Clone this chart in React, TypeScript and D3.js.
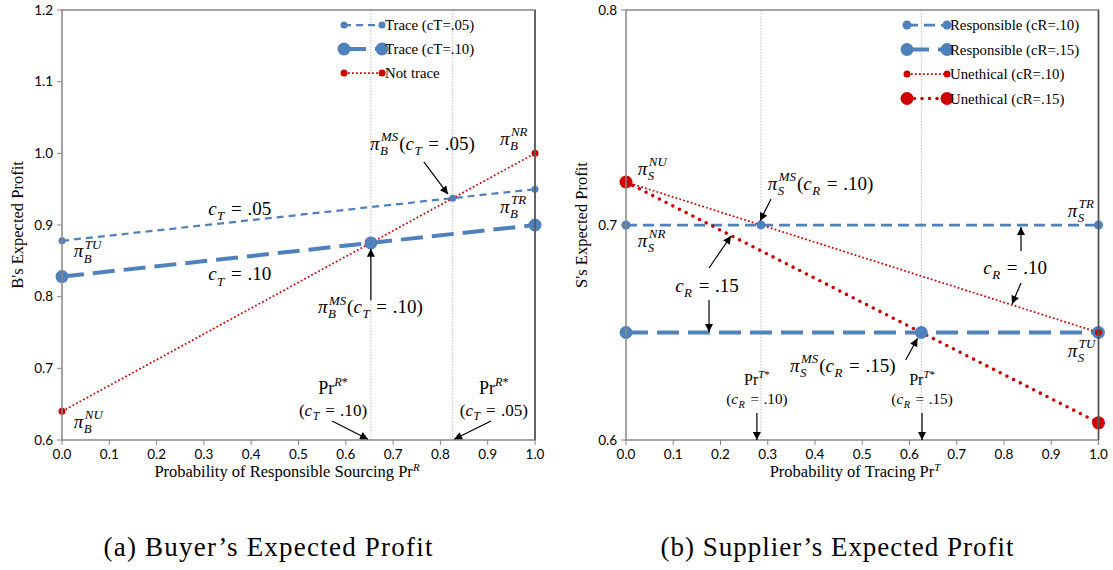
import React from "react";
import * as d3 from "d3";

// ---------- data ----------
type Pt = { x: number; y: number };

const xTicks = [0, 0.1, 0.2, 0.3, 0.4, 0.5, 0.6, 0.7, 0.8, 0.9, 1.0];

// (a) buyer
const buyerYTicks = [0.6, 0.7, 0.8, 0.9, 1.0, 1.1, 1.2];
const traceLowCost: Pt[] = [
  { x: 0, y: 0.878 },
  { x: 0.826, y: 0.9375 },
  { x: 1, y: 0.95 },
];
const traceHighCost: Pt[] = [
  { x: 0, y: 0.828 },
  { x: 0.653, y: 0.875 },
  { x: 1, y: 0.9 },
];
const notTrace: Pt[] = [
  { x: 0, y: 0.64 },
  { x: 1, y: 1.0 },
];
const buyerThresholds = [0.653, 0.826];

// (b) supplier
const supplierYTicks = [0.6, 0.7, 0.8];
const responsibleLow: Pt[] = [
  { x: 0, y: 0.7 },
  { x: 0.2857, y: 0.7 },
  { x: 1, y: 0.7 },
];
const responsibleHigh: Pt[] = [
  { x: 0, y: 0.65 },
  { x: 0.625, y: 0.65 },
  { x: 1, y: 0.65 },
];
const unethicalLow: Pt[] = [
  { x: 0, y: 0.72 },
  { x: 1, y: 0.65 },
];
const unethicalHigh: Pt[] = [
  { x: 0, y: 0.72 },
  { x: 1, y: 0.608 },
];
const supplierThresholds = [0.2857, 0.625];

// ---------- styles ----------
const BLUE = "#4F81BD";
const RED = "#D00000";
type LineStyle = { color: string; width: number; dash: string; cap: "butt" | "round"; r: number };
const thinDash: LineStyle = { color: BLUE, width: 2.25, dash: "7 5", cap: "butt", r: 3.5 };
const thickDash: LineStyle = { color: BLUE, width: 4, dash: "22 9", cap: "butt", r: 6.5 };
const midDash: LineStyle = { color: BLUE, width: 2.75, dash: "11 6", cap: "butt", r: 4.5 };
const thinDot: LineStyle = { color: RED, width: 1.75, dash: "1.75 2.25", cap: "butt", r: 3.5 };
const thickDot: LineStyle = { color: RED, width: 3.6, dash: "0 7.5", cap: "round", r: 6.5 };

const SERIF = "'Liberation Serif', Tinos, 'DejaVu Serif', serif";
const SANS = "Lato, 'Liberation Sans', sans-serif";
const NBSP = "\u00A0";

// ---------- text measuring ----------
let measureCtx: CanvasRenderingContext2D | null = null;
function tw(s: string, font: string): number {
  if (!measureCtx) measureCtx = document.createElement("canvas").getContext("2d");
  if (!measureCtx) return s.length * 8;
  measureCtx.font = font;
  return measureCtx.measureText(s).width;
}
const fontStr = (size: number, italic: boolean) => `${italic ? "italic " : ""}${size}px ${SERIF}`;

type Run = { t: string; dx: number; dy: number; size: number; italic: boolean };

// " = v" with slightly wider math spacing around the equals sign
function eqRuns(val: string, close: string, x0: number, fs: number): { runs: Run[]; width: number } {
  const gap = fs * 0.3;
  const wEq = tw("=", fontStr(fs, false));
  const runs: Run[] = [
    { t: "=", dx: x0 + gap, dy: 0, size: fs, italic: false },
    { t: val + close, dx: x0 + gap + wEq + gap, dy: 0, size: fs, italic: false },
  ];
  return { runs, width: gap * 2 + wEq + tw(val + close, fontStr(fs, false)) };
}

// Lays out "base_sub^sup" (stacked scripts) and an optional "(c_X = v)" tail
function mathRuns(
  base: string,
  sub: string,
  sup: string | undefined,
  tail: { sub: string; val: string; paren: boolean } | undefined,
  fs: number
): { runs: Run[]; width: number } {
  const ss = fs * 0.68;
  const runs: Run[] = [];
  let cx = 0;
  const add = (t: string, dy: number, size: number, italic: boolean) => {
    runs.push({ t, dx: cx, dy, size, italic });
    return tw(t, fontStr(size, italic));
  };
  cx += add(base, 0, fs, true) + 0.5;
  const wSup = sup ? tw(sup, fontStr(ss, true)) + 1 : 0;
  const wSub = tw(sub, fontStr(ss, true));
  if (sup) runs.push({ t: sup, dx: cx + 1, dy: -fs * 0.45, size: ss, italic: true });
  runs.push({ t: sub, dx: cx, dy: fs * 0.28, size: ss, italic: true });
  cx += Math.max(wSup, wSub) + 1;
  if (tail) {
    if (tail.paren) cx += add("(", 0, fs, false);
    cx += add("c", 0, fs, true) + 0.5;
    cx += add(tail.sub, fs * 0.28, ss, true) + 1;
    const eq = eqRuns(tail.val, tail.paren ? ")" : "", cx, fs);
    runs.push(...eq.runs);
    cx += eq.width;
  }
  return { runs, width: cx };
}

function Runs({ runs, x, y }: { runs: Run[]; x: number; y: number }) {
  return (
    <g>
      {runs.map((r, i) => (
        <text
          key={i}
          x={x + r.dx}
          y={y + r.dy}
          fontFamily={SERIF}
          fontSize={r.size}
          fontStyle={r.italic ? "italic" : "normal"}
          fill="#000"
        >
          {r.t}
        </text>
      ))}
    </g>
  );
}

// ---------- annotation specs ----------
type MathSpec = {
  x: number;
  y: number;
  base: string;
  sub: string;
  sup?: string;
  tail?: { sub: string; val: string; paren: boolean };
};
type PrSpec = { x: number; y: number; sup: string; sub: string; val: string; size: number };
type Arrow = { from: Pt; to: Pt };

const buyerLabels: MathSpec[] = [
  { x: 0.926, y: 1.012, base: "π", sub: "B", sup: "NR" },
  { x: 0.651, y: 1.005, base: "π", sub: "B", sup: "MS", tail: { sub: "T", val: ".05", paren: true } },
  { x: 0.926, y: 0.917, base: "π", sub: "B", sup: "TR" },
  { x: 0.309, y: 0.914, base: "c", sub: "T" },
  { x: 0.025, y: 0.855, base: "π", sub: "B", sup: "TU" },
  { x: 0.309, y: 0.823, base: "c", sub: "T" },
  { x: 0.541, y: 0.777, base: "π", sub: "B", sup: "MS", tail: { sub: "T", val: ".10", paren: true } },
  { x: 0.025, y: 0.617, base: "π", sub: "B", sup: "NU" },
];
const buyerCostText = [".05", ".10"];

const supplierLabels: MathSpec[] = [
  { x: 0.025, y: 0.7233, base: "π", sub: "S", sup: "NU" },
  { x: 0.3, y: 0.7163, base: "π", sub: "S", sup: "MS", tail: { sub: "R", val: ".10", paren: true } },
  { x: 0.935, y: 0.7037, base: "π", sub: "S", sup: "TR" },
  { x: 0.025, y: 0.6898, base: "π", sub: "S", sup: "NR" },
  { x: 0.104, y: 0.6688, base: "c", sub: "R" },
  { x: 0.756, y: 0.6772, base: "c", sub: "R" },
  { x: 0.935, y: 0.6386, base: "π", sub: "S", sup: "TU" },
  { x: 0.347, y: 0.6318, base: "π", sub: "S", sup: "MS", tail: { sub: "R", val: ".15", paren: true } },
];
const supplierCostText = [".15", ".10"];

const buyerPr: PrSpec[] = [
  { x: 0.573, y: 0.6642, sup: "R", sub: "T", val: ".10", size: 18 },
  { x: 0.913, y: 0.6642, sup: "R", sub: "T", val: ".05", size: 18 },
];
const supplierPr: PrSpec[] = [
  { x: 0.277, y: 0.6256, sup: "T", sub: "R", val: ".10", size: 16 },
  { x: 0.6265, y: 0.6256, sup: "T", sub: "R", val: ".15", size: 16 },
];

const buyerArrows: Arrow[] = [
  { from: { x: 0.765, y: 0.988 }, to: { x: 0.816, y: 0.943 } },
  { from: { x: 0.653, y: 0.795 }, to: { x: 0.653, y: 0.867 } },
  { from: { x: 0.571, y: 0.6265 }, to: { x: 0.647, y: 0.601 } },
  { from: { x: 0.907, y: 0.6265 }, to: { x: 0.829, y: 0.601 } },
];
const supplierArrows: Arrow[] = [
  { from: { x: 0.307, y: 0.7121 }, to: { x: 0.2836, y: 0.7019 } },
  { from: { x: 0.1757, y: 0.68 }, to: { x: 0.2222, y: 0.6949 } },
  { from: { x: 0.1757, y: 0.6651 }, to: { x: 0.1757, y: 0.6502 } },
  { from: { x: 0.836, y: 0.6879 }, to: { x: 0.836, y: 0.6991 } },
  { from: { x: 0.836, y: 0.673 }, to: { x: 0.817, y: 0.6633 } },
  { from: { x: 0.592, y: 0.6372 }, to: { x: 0.617, y: 0.6473 } },
  { from: { x: 0.277, y: 0.6126 }, to: { x: 0.277, y: 0.6 } },
  { from: { x: 0.6265, y: 0.6126 }, to: { x: 0.6265, y: 0.6 } },
];

// ---------- panel ----------
type Series = { pts: Pt[]; style: LineStyle; name: string };

type PanelProps = {
  left: number;
  right: number;
  top: number;
  bottom: number;
  yDomain: [number, number];
  yTicks: number[];
  yTitle: string;
  xTitle: string;
  xTitleSup: string;
  xTitleX: number;
  thresholds: number[];
  series: Series[];
  labels: MathSpec[];
  costValues: string[];
  prLabels: PrSpec[];
  arrows: Arrow[];
  legend: { x: number; y: number; len: number; gap: number };
  caption: string;
  captionX: number;
  captionLen: number;
};

function Panel(p: PanelProps) {
  const x = d3.scaleLinear().domain([0, 1]).range([p.left, p.right]);
  const y = d3.scaleLinear().domain(p.yDomain).range([p.bottom, p.top]);
  const line = d3
    .line<Pt>()
    .x((d) => x(d.x))
    .y((d) => y(d.y));
  const cy = (p.top + p.bottom) / 2;
  const axisColor = "#868686";
  const MATH = 19;

  let costIdx = 0;

  return (
    <g>
      {/* threshold guides */}
      {p.thresholds.map((t, i) => (
        <line
          key={i}
          x1={x(t)}
          x2={x(t)}
          y1={p.top}
          y2={p.bottom}
          stroke="#BFBFBF"
          strokeWidth={1}
          strokeDasharray="1.5 1.5"
        />
      ))}

      {/* series */}
      {p.series.map((s, i) => (
        <path
          key={i}
          d={line(s.pts) ?? ""}
          fill="none"
          stroke={s.style.color}
          strokeWidth={s.style.width}
          strokeDasharray={s.style.dash}
          strokeLinecap={s.style.cap}
        />
      ))}
      {p.series.map((s, i) =>
        s.pts.map((d, j) => (
          <circle key={`${i}-${j}`} cx={x(d.x)} cy={y(d.y)} r={s.style.r} fill={s.style.color} />
        ))
      )}

      {/* frame and axes */}
      <rect
        x={p.left}
        y={p.top}
        width={p.right - p.left}
        height={p.bottom - p.top}
        fill="none"
        stroke={axisColor}
        strokeWidth={1.5}
      />
      <line x1={p.right} x2={p.right} y1={p.top} y2={p.bottom} stroke="#505050" strokeWidth={1.5} />
      {p.yTicks.map((t) => (
        <g key={t}>
          <line x1={p.left - 5} x2={p.left} y1={y(t)} y2={y(t)} stroke={axisColor} strokeWidth={1} />
          <text x={p.left - 9} y={y(t) + 4.5} textAnchor="end" fontFamily={SANS} fontSize={13.5} fill="#000">
            {t.toFixed(1)}
          </text>
        </g>
      ))}
      {xTicks.map((t) => (
        <g key={t}>
          <line x1={x(t)} x2={x(t)} y1={p.bottom} y2={p.bottom + 5} stroke={axisColor} strokeWidth={1} />
          <text x={x(t)} y={p.bottom + 19} textAnchor="middle" fontFamily={SANS} fontSize={13.5} fill="#000">
            {t.toFixed(1)}
          </text>
        </g>
      ))}

      {/* axis titles */}
      <text
        transform={`translate(${p.left - 39},${cy}) rotate(-90)`}
        textAnchor="middle"
        fontFamily={SERIF}
        fontSize={16.5}
      >
        {p.yTitle}
      </text>
      <text x={p.xTitleX} y={p.bottom + 37} textAnchor="middle" fontFamily={SERIF} fontSize={16.5}>
        {p.xTitle}
        <tspan dy={-6.5} fontSize={11} fontStyle="italic">
          {p.xTitleSup}
        </tspan>
      </text>

      {/* arrows */}
      {p.arrows.map((a, i) => (
        <line
          key={i}
          x1={x(a.from.x)}
          y1={y(a.from.y)}
          x2={x(a.to.x)}
          y2={y(a.to.y)}
          stroke="#000"
          strokeWidth={1.2}
          markerEnd="url(#arrowHead)"
        />
      ))}

      {/* profit and cost annotations */}
      {p.labels.map((l, i) => {
        if (l.base === "c") {
          const val = p.costValues[costIdx++];
          const ss = MATH * 0.68;
          const w1 = tw("c", fontStr(MATH, true)) + 0.5;
          const w2 = tw(l.sub, fontStr(ss, true)) + 1;
          const r: Run[] = [
            { t: "c", dx: 0, dy: 0, size: MATH, italic: true },
            { t: l.sub, dx: w1, dy: MATH * 0.28, size: ss, italic: true },
            ...eqRuns(val, "", w1 + w2, MATH).runs,
          ];
          return <Runs key={i} runs={r} x={x(l.x)} y={y(l.y)} />;
        }
        const { runs } = mathRuns(l.base, l.sub, l.sup, l.tail, MATH);
        return <Runs key={i} runs={runs} x={x(l.x)} y={y(l.y)} />;
      })}

      {/* Pr^* threshold labels */}
      {p.prLabels.map((l, i) => {
        const fs = l.size;
        const ss = fs * 0.68;
        const px = x(l.x);
        const py = y(l.y);
        const wPr = tw("Pr", fontStr(fs, false));
        const wSup = tw(l.sup, fontStr(ss, true)) + tw("*", fontStr(ss, false));
        const x0 = px - (wPr + wSup) / 2;
        const fs2 = fs * 0.95;
        const ss2 = fs2 * 0.68;
        const w1 = tw("(", fontStr(fs2, false));
        const w2 = tw("c", fontStr(fs2, true)) + 0.5;
        const w3 = tw(l.sub, fontStr(ss2, true)) + 1;
        const eq = eqRuns(l.val, ")", 0, fs2);
        const x1 = px - (w1 + w2 + w3 + eq.width) / 2;
        const py2 = py + fs * 1.2;
        return (
          <g key={i} fontFamily={SERIF} fill="#000">
            <text x={x0} y={py} fontSize={fs}>
              Pr
            </text>
            <text x={x0 + wPr} y={py - fs * 0.42} fontSize={ss}>
              <tspan fontStyle="italic">{l.sup}</tspan>*
            </text>
            <text x={x1} y={py2} fontSize={fs2}>
              (
            </text>
            <text x={x1 + w1} y={py2} fontSize={fs2} fontStyle="italic">
              c
            </text>
            <text x={x1 + w1 + w2} y={py2 + fs2 * 0.28} fontSize={ss2} fontStyle="italic">
              {l.sub}
            </text>
            <Runs runs={eq.runs} x={x1 + w1 + w2 + w3} y={py2} />
          </g>
        );
      })}

      {/* legend */}
      {p.series.map((s, i) => {
        const ly = p.legend.y + i * p.legend.gap;
        const x1 = p.legend.x;
        const x2 = p.legend.x + p.legend.len;
        return (
          <g key={i}>
            <line
              x1={x1}
              x2={x2}
              y1={ly}
              y2={ly}
              stroke={s.style.color}
              strokeWidth={s.style.width}
              strokeDasharray={s.style.dash}
              strokeLinecap={s.style.cap}
            />
            <circle cx={x1} cy={ly} r={s.style.r} fill={s.style.color} />
            <circle cx={x2} cy={ly} r={s.style.r} fill={s.style.color} />
            <text x={x2 + 3} y={ly + 5} fontFamily={SERIF} fontSize={14.8}>
              {s.name}
            </text>
          </g>
        );
      })}

      {/* caption */}
      <text
        x={p.captionX}
        y={556}
        textAnchor="middle"
        fontFamily={SERIF}
        fontSize={27}
        textLength={p.captionLen}
        lengthAdjust="spacing"
      >
        {p.caption}
      </text>
    </g>
  );
}

export default function App() {
  return (
    <svg width={1113} height={570} style={{ position: "absolute", left: 0, top: 0, background: "#fff" }}>
      <defs>
        <marker
          id="arrowHead"
          viewBox="0 0 10 10"
          refX={10}
          refY={5}
          markerWidth={9}
          markerHeight={8}
          markerUnits="userSpaceOnUse"
          orient="auto"
        >
          <path d="M0,0 L10,5 L0,10 z" fill="#000" />
        </marker>
      </defs>
      <rect width={1113} height={570} fill="#fff" />
      <Panel
        left={62}
        right={535}
        top={10}
        bottom={440}
        yDomain={[0.6, 1.2]}
        yTicks={buyerYTicks}
        yTitle="B's Expected Profit"
        xTitle="Probability of Responsible Sourcing Pr"
        xTitleSup="R"
        xTitleX={287}
        thresholds={buyerThresholds}
        series={[
          { pts: traceLowCost, style: thinDash, name: "Trace (cT=.05)" },
          { pts: traceHighCost, style: thickDash, name: "Trace (cT=.10)" },
          { pts: notTrace, style: thinDot, name: "Not trace" },
        ]}
        labels={buyerLabels}
        costValues={buyerCostText}
        prLabels={buyerPr}
        arrows={buyerArrows}
        legend={{ x: 344, y: 25, len: 38, gap: 24 }}
        caption="(a) Buyer’s Expected Profit"
        captionX={268}
        captionLen={329}
      />
      <Panel
        left={626}
        right={1098.5}
        top={10}
        bottom={440}
        yDomain={[0.6, 0.8]}
        yTicks={supplierYTicks}
        yTitle="S's Expected Profit"
        xTitle="Probability of Tracing Pr"
        xTitleSup="T"
        xTitleX={855}
        thresholds={supplierThresholds}
        series={[
          { pts: responsibleLow, style: midDash, name: "Responsible (cR=.10)" },
          { pts: responsibleHigh, style: thickDash, name: "Responsible (cR=.15)" },
          { pts: unethicalLow, style: thinDot, name: "Unethical (cR=.10)" },
          { pts: unethicalHigh, style: thickDot, name: "Unethical (cR=.15)" },
        ]}
        labels={supplierLabels}
        costValues={supplierCostText}
        prLabels={supplierPr}
        arrows={supplierArrows}
        legend={{ x: 907, y: 25, len: 40, gap: 24.5 }}
        caption="(b) Supplier’s Expected Profit"
        captionX={837}
        captionLen={353}
      />
    </svg>
  );
}
